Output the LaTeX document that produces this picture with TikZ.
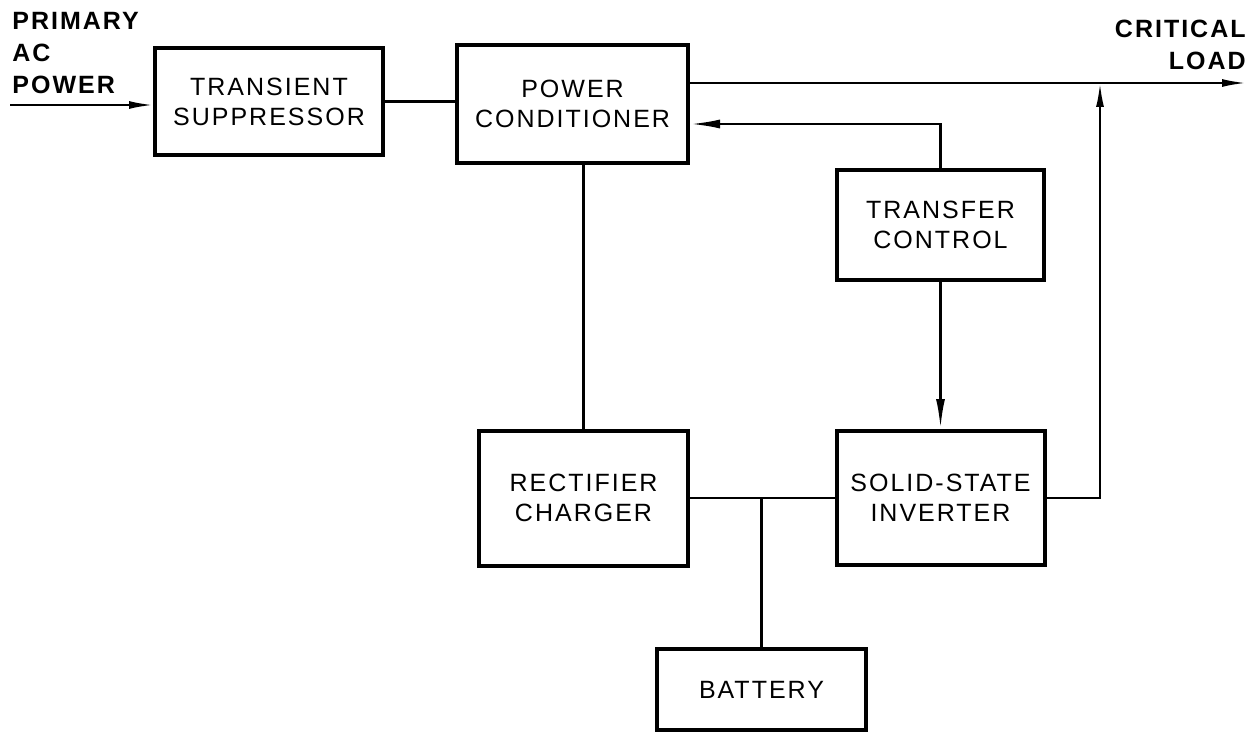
\documentclass[tikz,border=0pt]{standalone}
\usepackage{fontspec}
\setmainfont{Liberation Sans}[LetterSpace=8]
\usepackage{tikz}
\usetikzlibrary{positioning, arrows.meta, calc}

\begin{document}
\begin{tikzpicture}[
  x=0.5pt, y=-0.5pt,
  font=\fontsize{12.5}{15}\selectfont,
  block/.style={draw, line width=2pt, align=center, inner sep=2pt},
  wire/.style={line width=1.1pt},
  feed/.style={-{Latex[length=12pt, width=4pt]}, line width=1.1pt},
  ctrl/.style={-{Latex[length=15pt, width=4.5pt]}, line width=1.3pt},
  tag/.style={font=\fontsize{12.5}{16}\selectfont\bfseries, inner sep=0pt},
]
\useasboundingbox (0, 0) rectangle (1260, 733);

% Blocks
\node[block, minimum width=114pt, minimum height=53.5pt]   (sup)  at (269, 101.5) {TRANSIENT\\SUPPRESSOR};
\node[block, minimum width=115.5pt, minimum height=59pt]   (cond) at (572.5, 104) {POWER\\CONDITIONER};
\node[block, minimum width=103.5pt, minimum height=55pt]   (xfer) at (940.5, 225) {TRANSFER\\CONTROL};
\node[block, minimum width=104.5pt, minimum height=67.5pt] (rect) at (583.5, 498) {RECTIFIER\\CHARGER};
\node[block, minimum width=104pt, minimum height=67pt]     (inv)  at (940.5, 498) {SOLID-STATE\\INVERTER};
\node[block, minimum width=104.5pt, minimum height=40.5pt] (bat)  at (761.5, 689.5) {BATTERY};

% Input and output labels
\node[tag, align=left, anchor=north west]  (src)     at (12, 12)   {PRIMARY\\AC\\POWER};
\node[tag, align=right, anchor=north east] (loadtxt) at (1246, 20) {CRITICAL\\LOAD};

\coordinate (in)   at (10, 105);
\coordinate (load) at (1246, 83);
\coordinate (tap)  at (1100, 83);

% Main path
\draw[feed] (in) -- (in -| sup.west);
\draw[wire] (sup.east) -- (sup.east -| cond.west);
\draw[feed] (cond.east |- load) -- (load);

% Transfer control
\draw[ctrl] (xfer.north) |- ([yshift=-10pt]cond.east);
\draw[ctrl] (xfer.south) -- (inv.north);

% DC bus
\draw[ctrl, -] (cond.south -| rect.north) -- (rect.north);
\draw[wire] (rect.east) -- (inv.west);
\draw[wire] (bat.north) -- (bat.north |- rect.east);

% Inverter output
\draw[feed] (inv.east) -| (tap);
\end{tikzpicture}
\end{document}
